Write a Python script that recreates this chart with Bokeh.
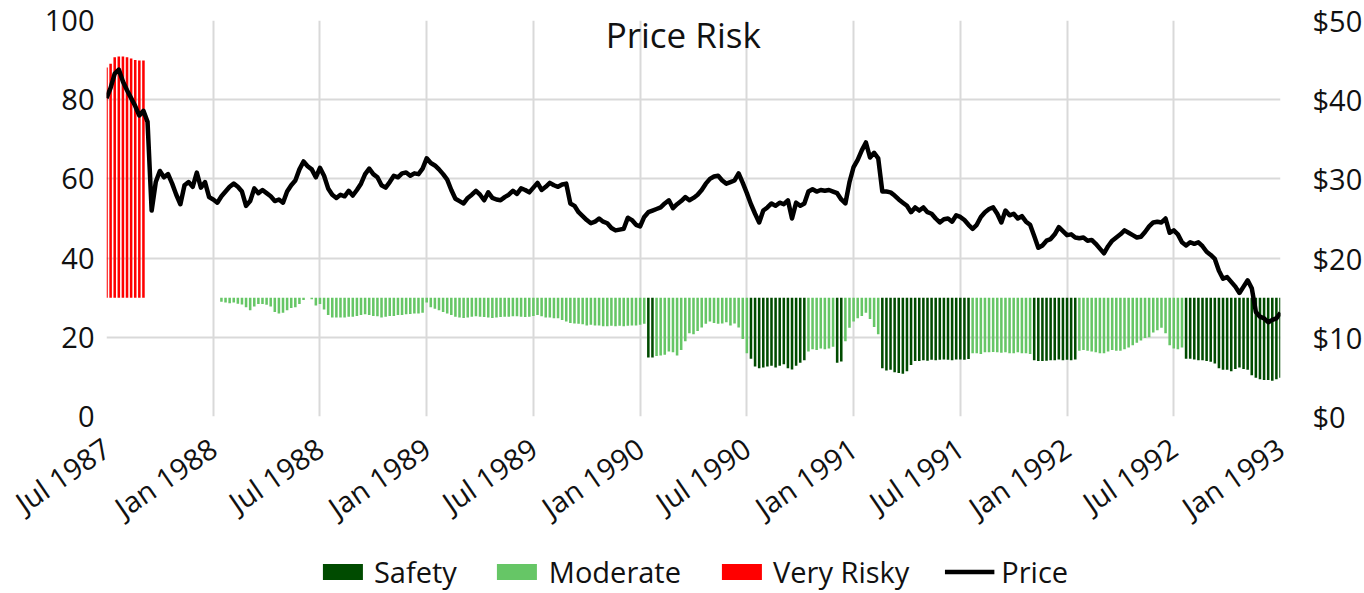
from bokeh.plotting import figure
from bokeh.layouts import column
from bokeh.models import Range1d, LinearAxis, FixedTicker, NumeralTickFormatter, Legend, LegendItem, Label
from bokeh.core.properties import value
from bokeh.embed import file_html
from bokeh.resources import INLINE

# ---------------- data ----------------
tick_labels = ["Jul 1987", "Jan 1988", "Jul 1988", "Jan 1989", "Jul 1989", "Jan 1990",
               "Jul 1990", "Jan 1991", "Jul 1991", "Jan 1992", "Jul 1992", "Jan 1993"]
weeks_per_tick = 26          # half a year of weekly observations

# weekly price ($, right axis)
price = [
    40.2, 41.5, 43.3, 43.8, 42.3, 41.2, 40.2, 39.2, 38.0, 38.6,
    37.2, 26.0, 29.6, 31.0, 30.2, 30.6, 29.4, 28.0, 26.8, 29.2,
    29.6, 29.0, 30.8, 28.9, 29.6, 27.7, 27.4, 27.0, 27.8, 28.4,
    29.0, 29.4, 29.0, 28.4, 26.6, 27.2, 28.8, 28.2, 28.6, 28.2,
    27.8, 27.2, 27.4, 27.0, 28.4, 29.2, 29.8, 31.2, 32.2, 31.6,
    31.2, 30.2, 31.4, 30.4, 28.8, 28.0, 27.6, 28.0, 27.8, 28.5,
    27.9, 28.6, 29.4, 30.6, 31.3, 30.6, 30.2, 29.2, 28.9, 29.6,
    30.4, 30.2, 30.7, 30.8, 30.4, 30.7, 30.6, 31.3, 32.6, 32.0,
    31.7, 31.2, 30.6, 29.9, 28.6, 27.5, 27.2, 26.9, 27.6, 28.0,
    28.5, 28.0, 27.3, 28.3, 27.6, 27.4, 27.3, 27.7, 28.0, 28.5,
    28.1, 28.8, 28.6, 28.3, 28.9, 29.5, 28.6, 29.0, 29.5, 29.2,
    29.0, 29.3, 29.4, 26.9, 26.6, 25.8, 25.3, 24.8, 24.4, 24.6,
    25.0, 24.6, 24.4, 23.8, 23.5, 23.6, 23.7, 25.1, 24.8, 24.2,
    24.0, 25.2, 25.8, 26.0, 26.2, 26.4, 26.9, 27.3, 26.3, 26.8,
    27.2, 27.7, 27.3, 27.6, 28.0, 28.6, 29.4, 30.0, 30.3, 30.4,
    29.8, 29.4, 29.6, 29.8, 30.7, 29.5, 28.2, 26.8, 25.6, 24.5,
    26.0, 26.4, 26.9, 26.6, 27.0, 26.8, 27.3, 25.0, 27.0, 26.6,
    26.9, 28.4, 28.7, 28.4, 28.6, 28.5, 28.6, 28.4, 28.2, 27.4,
    26.9, 29.6, 31.5, 32.4, 33.6, 34.6, 32.7, 33.3, 32.6, 28.4,
    28.4, 28.3, 27.9, 27.4, 27.0, 26.6, 25.8, 26.4, 26.0, 26.4,
    25.8, 25.6, 25.0, 24.5, 24.9, 25.0, 24.6, 25.4, 25.2, 24.8,
    24.2, 23.7, 24.2, 25.2, 25.8, 26.2, 26.4, 25.6, 24.5, 26.0,
    25.4, 25.6, 25.0, 25.3, 24.6, 24.2, 22.8, 21.3, 21.6, 22.2,
    22.4, 23.0, 23.9, 23.4, 22.9, 23.0, 22.6, 22.5, 22.6, 22.2,
    22.3, 21.8, 21.2, 20.6, 21.5, 22.2, 22.6, 23.0, 23.5, 23.2,
    22.9, 22.6, 22.7, 23.3, 24.0, 24.5, 24.6, 24.5, 25.0, 23.2,
    23.5, 23.0, 22.0, 21.6, 22.0, 21.8, 22.0, 21.5, 20.8, 20.4,
    19.9, 18.4, 17.4, 17.6, 17.0, 16.4, 15.6, 16.4, 17.2, 16.2,
    13.2, 12.6, 12.4, 11.9, 12.2, 12.4, 13.1,
]

# weekly risk score (left axis), None = no bar
risk = [
    88.1, 89.1, 90.7, 90.9, 90.9, 90.7, 90.4, 90.0, 89.9, 89.9,
    None, None, None, None, None, None, None, None, None, None,
    None, None, None, None, None, None, None, None, 29.0, 28.8,
    28.6, 28.8, 28.5, 28.3, 27.6, 26.8, 27.8, 28.4, 28.4, 28.2,
    27.8, 26.4, 26.0, 26.2, 26.8, 27.4, 27.6, 28.4, 29.4, None,
    29.6, 28.0, 28.4, 27.0, 25.6, 25.0, 25.0, 25.0, 25.0, 25.2,
    25.2, 25.4, 25.6, 25.8, 25.6, 25.4, 25.3, 25.0, 25.2, 25.4,
    25.4, 25.6, 25.6, 25.8, 25.9, 26.0, 26.0, 26.2, 28.8, 27.6,
    27.2, 26.8, 26.4, 26.0, 25.6, 25.2, 25.0, 24.9, 25.0, 25.2,
    25.3, 25.2, 25.1, 25.0, 24.9, 25.0, 25.1, 25.2, 25.2, 25.3,
    25.3, 25.2, 25.1, 25.2, 25.4, 25.6, 25.3, 25.0, 25.0, 24.8,
    24.8, 24.4, 24.0, 23.6, 23.5, 23.4, 23.3, 23.0, 23.2, 23.0,
    23.0, 22.8, 22.8, 22.9, 22.8, 22.9, 22.8, 22.9, 23.0, 23.0,
    23.2, 23.4, 14.9, 14.9, 15.3, 15.4, 15.6, 16.4, 16.2, 15.4,
    16.8, 19.0, 21.0, 20.8, 21.6, 22.5, 23.4, 24.0, 23.6, 23.4,
    23.5, 23.8, 23.0, 23.5, 22.5, 19.6, 16.0, 14.6, 12.6, 12.2,
    12.4, 12.6, 12.8, 12.4, 12.8, 13.2, 12.2, 11.9, 12.8, 13.6,
    14.2, 16.4, 17.0, 16.8, 17.2, 17.0, 17.2, 17.6, 13.6, 13.9,
    19.0, 22.4, 24.0, 24.8, 25.4, 26.2, 24.6, 22.6, 20.8, 12.2,
    11.6, 11.8, 11.2, 11.0, 10.8, 11.4, 13.0, 14.0, 14.0, 14.2,
    14.1, 14.3, 14.2, 14.3, 14.4, 14.3, 14.2, 14.4, 14.4, 14.3,
    14.5, 16.0, 16.0, 15.8, 16.2, 16.2, 16.3, 16.2, 16.1, 16.2,
    16.0, 16.0, 16.2, 16.0, 16.0, 15.8, 14.2, 14.0, 14.0, 14.1,
    14.2, 14.2, 14.4, 14.2, 14.3, 14.2, 14.4, 16.6, 16.8, 16.6,
    16.4, 16.2, 16.0, 16.0, 16.4, 16.8, 16.6, 16.6, 17.0, 17.4,
    18.0, 18.6, 19.2, 19.8, 20.0, 21.2, 21.8, 22.4, 21.0, 18.0,
    17.2, 17.0, 17.4, 14.6, 14.6, 14.4, 14.2, 14.2, 14.0, 13.8,
    13.4, 12.2, 11.8, 11.8, 11.4, 12.0, 12.4, 12.0, 11.8, 10.4,
    9.8, 9.4, 9.2, 9.2, 9.0, 9.4, 9.8,
]

baseline = 30          # risk bars grow from this level
safety_below = 15      # risk under this level is "Safety"
series_names = ["Safety", "Moderate", "Very Risky", "Price"]

# ---------------- chart ----------------
FONT = "Open Sans"
TXT = "#111111"
GRID = "#d9d9d9"
C_SAFE, C_MOD, C_VR, C_PRICE = "#004b00", "#66c666", "#ff0000", "#000000"
LW = 4.5

n = len(price)
weeks = list(range(n))
tick_pos = [i * weeks_per_tick for i in range(len(tick_labels))]

p = figure(frame_width=1174, frame_height=396, output_backend="svg", toolbar_location=None,
           x_range=Range1d(0, n - 1), y_range=Range1d(0, 100),
           min_border_left=106, min_border_right=84, min_border_top=20, min_border_bottom=133)
p.outline_line_color = None
p.background_fill_color = "white"
p.border_fill_color = "white"

p.extra_y_ranges = {"price": Range1d(0, 50)}

ly = p.yaxis[0]
ly.ticker = FixedTicker(ticks=[0, 20, 40, 60, 80, 100])
xa = p.xaxis[0]
xa.ticker = FixedTicker(ticks=tick_pos)
xa.major_label_overrides = {pos: lab for pos, lab in zip(tick_pos, tick_labels)}
xa.major_label_orientation = 0.6
xa.major_label_standoff = 22

ry = LinearAxis(y_range_name="price", ticker=FixedTicker(ticks=[0, 10, 20, 30, 40, 50]),
                formatter=NumeralTickFormatter(format="$0"))
p.add_layout(ry, "right")

for ax in (ly, xa, ry):
    ax.axis_line_color = None
    ax.major_tick_line_color = None
    ax.minor_tick_line_color = None
    ax.major_label_text_font = FONT
    ax.major_label_text_font_size = "29px"
    ax.major_label_text_color = TXT
ly.major_label_standoff = 6
ry.major_label_standoff = 26

p.xgrid.ticker = FixedTicker(ticks=tick_pos)
p.ygrid.ticker = FixedTicker(ticks=[0, 20, 40, 60, 80, 100])
for g in (p.xgrid, p.ygrid):
    g.grid_line_color = GRID
    g.grid_line_width = 2

def subset(cond):
    xs = [i for i, v in enumerate(risk) if v is not None and cond(v)]
    return xs, [risk[i] for i in xs]

sx, st = subset(lambda v: v < safety_below)
mx, mt = subset(lambda v: safety_below <= v <= baseline)
vx, vt = subset(lambda v: v > baseline)

bw = 0.62
p.vbar(x=sx, bottom=baseline, top=st, width=bw, fill_color=C_SAFE, line_color=None)
p.vbar(x=mx, bottom=baseline, top=mt, width=bw, fill_color=C_MOD, line_color=None)
p.vbar(x=vx, bottom=baseline, top=vt, width=bw, fill_color=C_VR, line_color=None)
p.line(weeks, price, y_range_name="price", line_color=C_PRICE, line_width=LW, line_join="round")

p.add_layout(Label(x=140.5, y=96.5, text="Price Risk", text_align="center",
                   text_baseline="alphabetic", text_font=FONT, text_font_size="35px",
                   text_color=TXT))

# ---------------- legend strip (separate plot holding only the legend) ----------------
lg = figure(width=1364, height=44, output_backend="svg", toolbar_location=None,
            min_border_left=0, min_border_right=0, min_border_top=0, min_border_bottom=0,
            x_range=Range1d(0, 1), y_range=Range1d(0, 1))
lg.axis.visible = False
lg.grid.visible = False
lg.outline_line_color = None
lg.border_fill_color = "white"
# legend-only proxies, placed outside the strip's visible range
d1 = lg.vbar(x=[-5], bottom=[-5], top=[-4], width=1, fill_color=C_SAFE, line_color=None)
d2 = lg.vbar(x=[-5], bottom=[-5], top=[-4], width=1, fill_color=C_MOD, line_color=None)
d3 = lg.vbar(x=[-5], bottom=[-5], top=[-4], width=1, fill_color=C_VR, line_color=None)
d4 = lg.line(x=[-5, -4], y=[-5, -5], line_color=C_PRICE, line_width=LW)

legend = Legend(items=[LegendItem(label=nm, renderers=[r]) for nm, r in zip(series_names, [d1, d2, d3, d4])],
                orientation="horizontal", location="center",
                glyph_width=50, glyph_height=20, spacing=35, label_standoff=7,
                label_text_font=FONT, label_text_font_size="29px", label_text_color=TXT,
                border_line_color=None, background_fill_alpha=0, padding=0, margin=0)
lg.add_layout(legend, "center")

layout = column(p, lg, spacing=0)
open("out.html", "w").write(file_html(layout, INLINE))
